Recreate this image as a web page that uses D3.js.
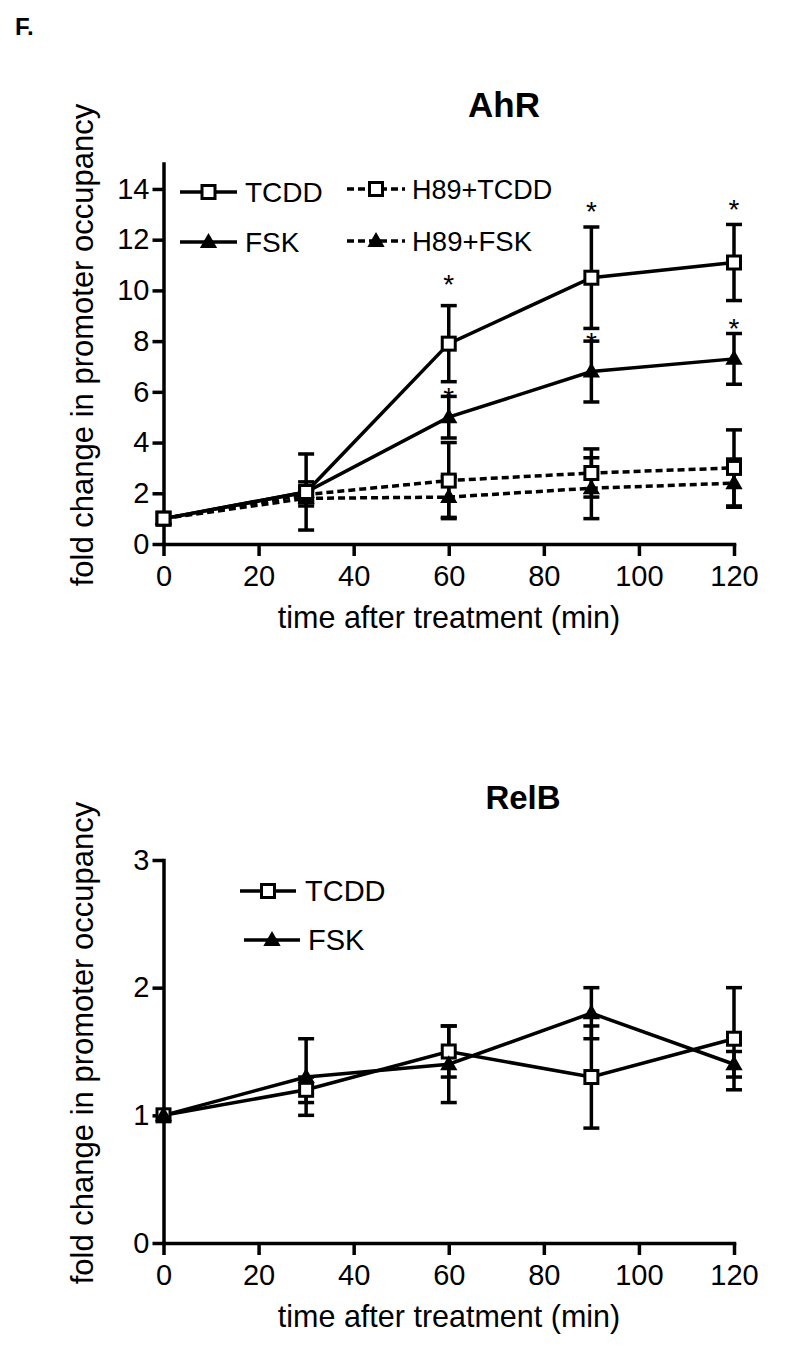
<!DOCTYPE html>
<html>
<head>
<meta charset="utf-8">
<script src="https://cdn.jsdelivr.net/npm/d3@7"></script>
<style>
  html, body { margin: 0; padding: 0; background: #fff; }
  svg { display: block; }
  text { font-family: "Liberation Sans", Arial, sans-serif; fill: #000; }
</style>
</head>
<body>
<svg id="chart" width="786" height="1362"></svg>
<script>
// ---------------- DATA ----------------
const times = [0, 30, 60, 90, 120];
const xTicks = [0, 20, 40, 60, 80, 100, 120];

// AhR panel
const ahrYTicks = [0, 2, 4, 6, 8, 10, 12, 14];
const ahrTCDD     = [1.0, 2.05, 7.9, 10.5, 11.1];
const ahrTCDDErr  = [0, 1.5, 1.5, 2.0, 1.5];
const ahrFSK      = [1.0, 2.05, 5.0, 6.8, 7.3];
const ahrFSKErr   = [0, 0.4, 0.82, 1.2, 1.0];
const ahrH89TCDD    = [1.0, 1.95, 2.5, 2.8, 3.0];
const ahrH89TCDDErr = [0, 0.3, 1.5, 0.95, 1.5];
const ahrH89FSK     = [1.0, 1.8, 1.85, 2.2, 2.4];
const ahrH89FSKErr  = [0, 0.3, 0.8, 1.2, 0.95];
// significance asterisks (time, height in fold units)
const starTimes   = [60, 90, 120, 60, 90, 120];
const starLevels  = [10.5, 13.35, 13.45, 6.05, 8.2, 8.75];

// RelB panel
const relYTicks = [0, 1, 2, 3];
const relTCDD    = [1.0, 1.2, 1.5, 1.3, 1.6];
const relTCDDErr = [0, 0.1, 0.2, 0.4, 0.4];
const relFSK     = [1.0, 1.3, 1.4, 1.8, 1.4];
const relFSKErr  = [0, 0.3, 0.3, 0.2, 0.1];

const labelTCDD = "TCDD", labelFSK = "FSK", labelH89TCDD = "H89+TCDD", labelH89FSK = "H89+FSK";
const yTitle = "fold change in promoter occupancy";
const xTitle = "time after treatment (min)";

// ---------------- DRAW ----------------
const svg = d3.select("#chart");
const LW = 3.5;

svg.append("text").attr("x", 15).attr("y", 35)
  .attr("font-size", 24).attr("font-weight", "bold").text("F.");

function marker(g, type, x, y) {
  if (type === "square") {
    g.append("rect").attr("x", x - 6.5).attr("y", y - 6.5).attr("width", 13).attr("height", 13)
      .attr("fill", "#fff").attr("stroke", "#000").attr("stroke-width", 3);
  } else {
    const sym = d3.symbol().type(d3.symbolTriangle).size(130);
    g.append("path").attr("d", sym()).attr("transform", `translate(${x},${y + 1})`)
      .attr("fill", "#000");
  }
}

function panel(opts) {
  const g = svg.append("g");
  const x = d3.scaleLinear().domain([0, 120]).range([163.5, 734]);
  const y = d3.scaleLinear().domain([0, opts.yMax]).range([opts.y0, opts.yTop]);

  // axes
  const ax = g.append("g").attr("transform", `translate(0,${opts.y0})`)
    .call(d3.axisBottom(x).tickValues(xTicks).tickSize(12).tickSizeOuter(0).tickPadding(9));
  const ay = g.append("g").attr("transform", `translate(163.5,0)`)
    .call(d3.axisLeft(y).tickValues(opts.yTicks).tickFormat(d3.format("d"))
      .tickSize(11).tickSizeOuter(0).tickPadding(3));
  [ax, ay].forEach(a => {
    a.selectAll("path,line").attr("stroke", "#000").attr("stroke-width", LW);
    a.select(".domain").attr("stroke-linecap", "square");
    a.selectAll("text").attr("font-size", 29).attr("font-family", "Liberation Sans, Arial, sans-serif").attr("fill", "#000");
  });

  // titles
  g.append("text").attr("x", opts.titleX).attr("y", opts.titleY).attr("text-anchor", "middle")
    .attr("font-size", opts.titleSize).attr("font-weight", "bold").text(opts.title);
  g.append("text").attr("x", 449).attr("y", opts.y0 + 84).attr("text-anchor", "middle")
    .attr("font-size", 30.5).text(xTitle);
  g.append("text").attr("transform", `translate(93,${opts.yLabelC}) rotate(-90)`)
    .attr("text-anchor", "middle").attr("font-size", 31).text(yTitle);

  // series
  opts.series.forEach(s => {
    const pts = times.map((t, i) => [x(t), y(s.v[i])]);
    g.append("path").attr("d", d3.line()(pts)).attr("fill", "none").attr("stroke", "#000")
      .attr("stroke-width", LW).attr("stroke-dasharray", s.dash ? "7,4" : null);
  });
  opts.series.forEach(s => {
    times.forEach((t, i) => {
      const e = s.e[i];
      if (e <= 0) return;
      const cx = x(t);
      g.append("line").attr("x1", cx).attr("x2", cx).attr("y1", y(s.v[i] - e)).attr("y2", y(s.v[i] + e))
        .attr("stroke", "#000").attr("stroke-width", LW);
      [s.v[i] - e, s.v[i] + e].forEach(v => {
        g.append("line").attr("x1", cx - 8).attr("x2", cx + 8).attr("y1", y(v)).attr("y2", y(v))
          .attr("stroke", "#000").attr("stroke-width", LW);
      });
    });
  });
  opts.series.forEach(s => {
    times.forEach((t, i) => marker(g, s.m, x(t), y(s.v[i])));
  });

  // stars
  if (opts.stars) {
    opts.stars.t.forEach((t, i) => {
      g.append("text").attr("x", x(t)).attr("y", y(opts.stars.v[i]) + 16)
        .attr("text-anchor", "middle").attr("font-size", 28).text("*");
    });
  }

  // legend
  opts.legend.forEach(l => {
    g.append("line").attr("x1", l.x1).attr("x2", l.x2).attr("y1", l.y).attr("y2", l.y)
      .attr("stroke", "#000").attr("stroke-width", LW).attr("stroke-dasharray", l.dash ? "7,4" : null);
    marker(g, l.m, (l.x1 + l.x2) / 2, l.y);
    g.append("text").attr("x", l.tx).attr("y", l.y + 10).attr("font-size", l.fs).text(l.label);
  });
}

panel({
  yMax: 15, y0: 544, yTop: 163.6, yTicks: ahrYTicks,
  title: "AhR", titleX: 504, titleY: 117, titleSize: 35, yLabelC: 345,
  series: [
    { v: ahrH89TCDD, e: ahrH89TCDDErr, m: "square", dash: true },
    { v: ahrH89FSK, e: ahrH89FSKErr, m: "triangle", dash: true },
    { v: ahrFSK, e: ahrFSKErr, m: "triangle", dash: false },
    { v: ahrTCDD, e: ahrTCDDErr, m: "square", dash: false }
  ],
  stars: { t: starTimes, v: starLevels },
  legend: [
    { x1: 180, x2: 237, y: 192, m: "square", dash: false, tx: 245, fs: 28, label: labelTCDD },
    { x1: 180, x2: 237, y: 242, m: "triangle", dash: false, tx: 245, fs: 28, label: labelFSK },
    { x1: 347, x2: 405, y: 189, m: "square", dash: true, tx: 412, fs: 27, label: labelH89TCDD },
    { x1: 347, x2: 405, y: 241, m: "triangle", dash: true, tx: 412, fs: 27.5, label: labelH89FSK }
  ]
});

panel({
  yMax: 3, y0: 1243, yTop: 860, yTicks: relYTicks,
  title: "RelB", titleX: 523, titleY: 809, titleSize: 33, yLabelC: 1043,
  series: [
    { v: relTCDD, e: relTCDDErr, m: "square", dash: false },
    { v: relFSK, e: relFSKErr, m: "triangle", dash: false }
  ],
  legend: [
    { x1: 240, x2: 296, y: 891, m: "square", dash: false, tx: 305, fs: 29, label: labelTCDD },
    { x1: 244, x2: 300, y: 940, m: "triangle", dash: false, tx: 308, fs: 29, label: labelFSK }
  ]
});
</script>
</body>
</html>
